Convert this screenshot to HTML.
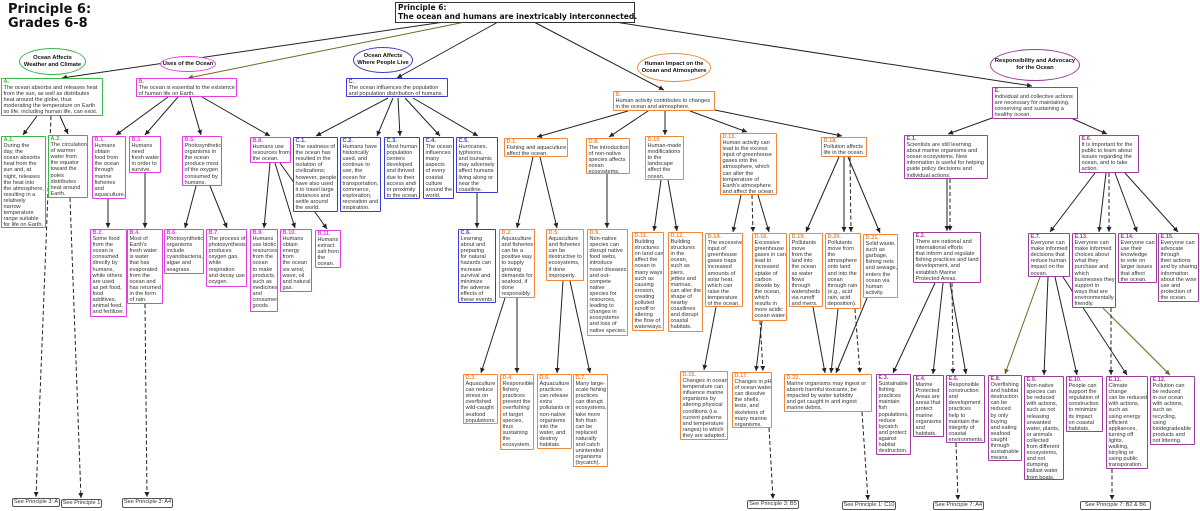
<!DOCTYPE html>
<html><head><meta charset="utf-8"><style>
body{margin:0;background:#fff;}
#w{position:relative;width:1200px;height:511px;overflow:hidden;background:#fff;font-family:"Liberation Sans",sans-serif;}
svg{position:absolute;left:0;top:0;}
.b{position:absolute;border:1.5px solid;background:#fff;font:5.6px/6.1px "Liberation Sans",sans-serif;color:#333;padding:0 1.5px;box-sizing:border-box;white-space:nowrap;overflow:hidden;border-radius:1px;}
.b i{font-style:normal;font-weight:bold;}
.g{border-color:#3cb54a}.g i{color:#3cb54a}
.m{border-color:#e040e0}.m i{color:#e040e0}
.c{border-color:#3c3cc8}.c i{color:#3c3cc8}
.o{border-color:#f0883c}.o i{color:#f0883c}
.p{border-color:#9c3c9c}.p i{color:#9c3c9c}
.e{position:absolute;border:1.5px solid;border-radius:50%;background:#fff;box-sizing:border-box;display:flex;align-items:center;justify-content:center;text-align:center;font:bold 5.8px/7px "Liberation Sans",sans-serif;color:#111;}
.s{position:absolute;border:1.3px solid #555;border-radius:2px;background:#fff;font:5.6px/6px "Liberation Sans",sans-serif;color:#333;box-sizing:border-box;text-align:center;white-space:nowrap;overflow:hidden;}
#t{position:absolute;left:8px;top:3px;font:bold 13px/14px "DejaVu Sans",sans-serif;color:#111;}
#top{position:absolute;left:395px;top:2px;width:240px;height:21px;border:1.5px solid #333;box-sizing:border-box;font:bold 7.6px/8.8px "DejaVu Sans",sans-serif;color:#111;padding:1px 2px;white-space:nowrap;background:#fff;}
</style></head><body><div id="w">
<svg width="1200" height="511" viewBox="0 0 1200 511">
<defs><marker id="a" markerWidth="6" markerHeight="6" refX="5" refY="3" orient="auto" markerUnits="userSpaceOnUse"><path d="M0,0.5 L5,3 L0,5.5z" fill="#222"/></marker>
<marker id="ao" markerWidth="6" markerHeight="6" refX="5" refY="3" orient="auto" markerUnits="userSpaceOnUse"><path d="M0,0.5 L5,3 L0,5.5z" fill="#6b6b20"/></marker></defs>
<g stroke="#222" stroke-width="1" fill="none" marker-end="url(#a)">
<line x1="444" y1="22" x2="62" y2="78"/>
<line x1="498" y1="22" x2="397" y2="78"/>
<line x1="534" y1="22" x2="664" y2="90"/>
<line x1="615" y1="22" x2="1032" y2="86"/>
<line x1="37" y1="116" x2="23" y2="135"/>
<line x1="60" y1="116" x2="68" y2="134"/>
<line x1="168" y1="97" x2="116" y2="135"/>
<line x1="178" y1="97" x2="145" y2="135"/>
<line x1="190" y1="97" x2="201" y2="135"/>
<line x1="202" y1="97" x2="270" y2="136"/>
<line x1="108" y1="199" x2="108" y2="228"/>
<line x1="145" y1="173" x2="145" y2="228"/>
<line x1="196" y1="186" x2="185" y2="228"/>
<line x1="210" y1="186" x2="227" y2="228"/>
<line x1="270" y1="163" x2="264" y2="228"/>
<line x1="275" y1="163" x2="295" y2="228"/>
<line x1="280" y1="163" x2="327" y2="229"/>
<line x1="388" y1="98" x2="316" y2="136"/>
<line x1="393" y1="98" x2="377" y2="136"/>
<line x1="398" y1="98" x2="400" y2="136"/>
<line x1="405" y1="98" x2="440" y2="136"/>
<line x1="413" y1="98" x2="478" y2="136"/>
<line x1="477" y1="193" x2="477" y2="228"/>
<line x1="628" y1="111" x2="537" y2="137"/>
<line x1="648" y1="111" x2="609" y2="137"/>
<line x1="665" y1="111" x2="665" y2="135"/>
<line x1="690" y1="111" x2="747" y2="132"/>
<line x1="715" y1="110" x2="842" y2="136"/>
<line x1="533" y1="157" x2="517" y2="228"/>
<line x1="540" y1="157" x2="557" y2="228"/>
<line x1="505" y1="298" x2="481" y2="373"/>
<line x1="517" y1="298" x2="517" y2="373"/>
<line x1="563" y1="281" x2="557" y2="373"/>
<line x1="570" y1="281" x2="590" y2="373"/>
<line x1="607" y1="174" x2="607" y2="228"/>
<line x1="661" y1="180" x2="654" y2="231"/>
<line x1="668" y1="180" x2="677" y2="231"/>
<line x1="741" y1="195" x2="733" y2="232"/>
<line x1="758" y1="195" x2="769" y2="232"/>
<line x1="762" y1="321" x2="756" y2="371"/>
<line x1="716" y1="307" x2="704" y2="370"/>
<line x1="839" y1="157" x2="806" y2="232"/>
<line x1="844" y1="157" x2="844" y2="232"/>
<line x1="848" y1="157" x2="880" y2="233"/>
<line x1="813" y1="307" x2="825" y2="373"/>
<line x1="838" y1="309" x2="831" y2="373"/>
<line x1="867" y1="298" x2="836" y2="373"/>
<line x1="992" y1="118" x2="948" y2="134"/>
<line x1="1071" y1="118" x2="1107" y2="134"/>
<line x1="947" y1="179" x2="947" y2="231"/>
<line x1="935" y1="283" x2="893" y2="373"/>
<line x1="943" y1="283" x2="933" y2="374"/>
<line x1="950" y1="283" x2="966" y2="374"/>
<line x1="1095" y1="173" x2="1050" y2="232"/>
<line x1="1106" y1="173" x2="1099" y2="232"/>
<line x1="1115" y1="173" x2="1137" y2="232"/>
<line x1="1125" y1="173" x2="1178" y2="232"/>
<line x1="1048" y1="277" x2="1044" y2="375"/>
<line x1="1055" y1="277" x2="1077" y2="375"/>
<line x1="1063" y1="277" x2="1127" y2="375"/>
</g>
<g stroke="#6b6b20" stroke-width="1" fill="none" marker-end="url(#ao)">
<line x1="465" y1="22" x2="188" y2="78"/>
<line x1="1040" y1="277" x2="1005" y2="374"/>
<line x1="1103" y1="308" x2="1170" y2="375"/>
</g>
<g stroke="#222" stroke-width="1" fill="none" stroke-dasharray="4,2.5" marker-end="url(#a)">
<line x1="51" y1="116" x2="36" y2="497"/>
<line x1="70" y1="198" x2="81" y2="498"/>
<line x1="145" y1="304" x2="147" y2="497"/>
<line x1="752" y1="195" x2="753" y2="232"/>
<line x1="760" y1="321" x2="763" y2="371"/>
<line x1="769" y1="428" x2="773" y2="499"/>
<line x1="850" y1="157" x2="851" y2="232"/>
<line x1="855" y1="309" x2="860" y2="373"/>
<line x1="862" y1="412" x2="868" y2="500"/>
<line x1="950" y1="179" x2="950" y2="231"/>
<line x1="952" y1="283" x2="953" y2="374"/>
<line x1="956" y1="443" x2="958" y2="500"/>
<line x1="1109" y1="173" x2="1109" y2="232"/>
<line x1="1111" y1="308" x2="1111" y2="375"/>
<line x1="1112" y1="469" x2="1112" y2="500"/>
</g>
</svg>

<div id="t">Principle 6:<br>Grades 6-8</div>
<div id="top">Principle 6:<br>The ocean and humans are inextricably interconnected.</div>

<div class="e" style="left:19px;top:48px;width:67px;height:27px;border-color:#3cb54a">Ocean Affects<br>Weather and Climate</div>
<div class="e" style="left:160px;top:56px;width:56px;height:16px;border-color:#e040e0">Uses of the Ocean</div>
<div class="e" style="left:353px;top:47px;width:60px;height:26px;border-color:#3c3cc8">Ocean Affects<br>Where People Live</div>
<div class="e" style="left:637px;top:53px;width:74px;height:29px;border-color:#f0883c">Human Impact on the<br>Ocean and Atmosphere</div>
<div class="e" style="left:990px;top:49px;width:90px;height:32px;border-color:#9c3c9c">Responsibility and Advocacy<br>for the Ocean</div>

<div class="b g" style="left:1px;top:78px;width:102px;height:38px"><i>A.</i><br>The ocean absorbs and releases heat<br>from the sun, as well as distributes<br>heat around the globe, thus<br>moderating the temperature on Earth<br>so life, including human life, can exist.</div>
<div class="b g" style="left:1px;top:136px;width:45px;height:92px"><i>A.1.</i><br>During the<br>day, the<br>ocean absorbs<br>heat from the<br>sun and, at<br>night, releases<br>the heat into<br>the atmosphere,<br>resulting in a<br>relatively<br>narrow<br>temperature<br>range suitable<br>for life on Earth.</div>
<div class="b g" style="left:48px;top:135px;width:40px;height:63px"><i>A.2.</i><br>The circulation<br>of warmer<br>water from<br>the equator<br>toward the<br>poles<br>distributes<br>heat around<br>Earth.</div>

<div class="b m" style="left:136px;top:78px;width:101px;height:19px"><i>B.</i><br>The ocean is essential to the existence<br>of human life on Earth.</div>
<div class="b m" style="left:92px;top:136px;width:34px;height:63px"><i>B.1.</i><br>Humans<br>obtain<br>food from<br>the ocean<br>through<br>marine<br>fisheries<br>and<br>aquaculture.</div>
<div class="b m" style="left:90px;top:229px;width:37px;height:88px"><i>B.2.</i><br>Some food<br>from the<br>ocean is<br>consumed<br>directly by<br>humans,<br>while others<br>are used<br>as pet food,<br>food<br>additives,<br>animal feed,<br>and fertilizer.</div>
<div class="b m" style="left:129px;top:136px;width:32px;height:37px"><i>B.3.</i><br>Humans<br>need<br>fresh water<br>in order to<br>survive.</div>
<div class="b m" style="left:127px;top:229px;width:36px;height:75px"><i>B.4.</i><br>Most of<br>Earth's<br>fresh water<br>is water<br>that has<br>evaporated<br>from the<br>ocean and<br>has returned<br>in the form<br>of rain.</div>
<div class="b m" style="left:182px;top:136px;width:40px;height:50px"><i>B.5.</i><br>Photosynthetic<br>organisms in<br>the ocean<br>produce most<br>of the oxygen<br>consumed by<br>humans.</div>
<div class="b m" style="left:164px;top:229px;width:40px;height:45px"><i>B.6.</i><br>Photosynthetic<br>organisms<br>include<br>cyanobacteria,<br>algae and<br>seagrass.</div>
<div class="b m" style="left:206px;top:229px;width:41px;height:58px"><i>B.7.</i><br>The process of<br>photosynthesis<br>produces<br>oxygen gas,<br>while<br>respiration<br>and decay use<br>oxygen.</div>
<div class="b m" style="left:250px;top:137px;width:41px;height:26px"><i>B.8.</i><br>Humans use<br>resources from<br>the ocean.</div>
<div class="b m" style="left:250px;top:229px;width:28px;height:83px"><i>B.9.</i><br>Humans<br>use biotic<br>resources<br>from the<br>ocean<br>to make<br>products,<br>such as<br>medicines<br>and<br>consumer<br>goods.</div>
<div class="b m" style="left:280px;top:229px;width:32px;height:63px"><i>B.10.</i><br>Humans<br>obtain<br>energy<br>from<br>the ocean<br>via wind,<br>wave, oil<br>and natural<br>gas.</div>
<div class="b m" style="left:315px;top:230px;width:26px;height:38px"><i>B.11.</i><br>Humans<br>extract<br>salt from<br>the<br>ocean.</div>

<div class="b c" style="left:346px;top:78px;width:102px;height:19px"><i>C.</i><br>The ocean influences the population<br>and population distribution of humans.</div>
<div class="b c" style="left:293px;top:137px;width:45px;height:75px"><i>C.1.</i><br>The vastness of<br>the ocean has<br>resulted in the<br>isolation of<br>civilizations;<br>however, people<br>have also used<br>it to travel large<br>distances and<br>settle around<br>the world.</div>
<div class="b c" style="left:340px;top:137px;width:41px;height:75px"><i>C.2.</i><br>Humans have<br>historically<br>used, and<br>continue to<br>use, the<br>ocean for<br>transportation,<br>commerce,<br>exploration,<br>recreation and<br>inspiration.</div>
<div class="b c" style="left:384px;top:137px;width:36px;height:62px"><i>C.3.</i><br>Most human<br>population<br>centers<br>developed<br>and thrived<br>due to their<br>access and/<br>or proximity<br>to the ocean.</div>
<div class="b c" style="left:423px;top:137px;width:31px;height:62px"><i>C.4.</i><br>The ocean<br>influences<br>many<br>aspects<br>of every<br>coastal<br>culture<br>around the<br>world.</div>
<div class="b c" style="left:456px;top:137px;width:42px;height:56px"><i>C.5.</i><br>Hurricanes,<br>typhoons,<br>and tsunamis<br>may adversely<br>affect humans<br>living along or<br>near the<br>coastline.</div>
<div class="b c" style="left:458px;top:229px;width:38px;height:74px"><i>C.6.</i><br>Learning<br>about and<br>preparing<br>for natural<br>hazards can<br>increase<br>survival and<br>minimize<br>the adverse<br>effects of<br>these events.</div>

<div class="b o" style="left:613px;top:91px;width:102px;height:20px"><i>D.</i><br>Human activity contributes to changes<br>in the ocean and atmosphere.</div>
<div class="b o" style="left:504px;top:138px;width:64px;height:19px"><i>D.1.</i><br>Fishing and aquaculture<br>affect the ocean.</div>
<div class="b o" style="left:499px;top:229px;width:36px;height:69px"><i>D.2.</i><br>Aquaculture<br>and fisheries<br>can be a<br>positive way<br>to supply<br>growing<br>demands for<br>seafood, if<br>done<br>responsibly.</div>
<div class="b o" style="left:463px;top:374px;width:35px;height:50px"><i>D.3.</i><br>Aquaculture<br>can reduce<br>stress on<br>overfished<br>wild-caught<br>seafood<br>populations.</div>
<div class="b o" style="left:500px;top:374px;width:34px;height:76px"><i>D.4.</i><br>Responsible<br>fishery<br>practices<br>prevent the<br>overfishing<br>of target<br>species,<br>thus<br>sustaining<br>the<br>ecosystem.</div>
<div class="b o" style="left:546px;top:229px;width:38px;height:52px"><i>D.5.</i><br>Aquaculture<br>and fisheries<br>can be<br>destructive to<br>ecosystems,<br>if done<br>improperly.</div>
<div class="b o" style="left:537px;top:374px;width:35px;height:75px"><i>D.6.</i><br>Aquaculture<br>practices<br>can release<br>extra<br>pollutants or<br>non-native<br>organisms<br>into the<br>water, and<br>destroy<br>habitats.</div>
<div class="b o" style="left:573px;top:374px;width:35px;height:93px"><i>D.7.</i><br>Many large-<br>scale fishing<br>practices<br>can disrupt<br>ecosystems,<br>take more<br>fish than<br>can be<br>replaced<br>naturally<br>and catch<br>unintended<br>organisms<br>(bycatch).</div>
<div class="b o" style="left:586px;top:138px;width:44px;height:36px"><i>D.8.</i><br>The introduction<br>of non-native<br>species affects<br>ocean<br>ecosystems.</div>
<div class="b o" style="left:587px;top:229px;width:41px;height:107px"><i>D.9.</i><br>Non-native<br>species can<br>disrupt native<br>food webs,<br>introduce<br>novel diseases<br>and out-<br>compete<br>native<br>species for<br>resources,<br>leading to<br>changes in<br>ecosystems<br>and loss of<br>native species.</div>
<div class="b o" style="left:645px;top:136px;width:39px;height:44px"><i>D.10.</i><br>Human-made<br>modifications<br>to the<br>landscape<br>affect the<br>ocean.</div>
<div class="b o" style="left:632px;top:232px;width:32px;height:99px"><i>D.11.</i><br>Building<br>structures<br>on land can<br>affect the<br>ocean in<br>many ways,<br>such as<br>causing<br>erosion,<br>creating<br>polluted<br>runoff or<br>altering<br>the flow of<br>waterways.</div>
<div class="b o" style="left:668px;top:232px;width:35px;height:100px"><i>D.12.</i><br>Building<br>structures<br>in the<br>ocean,<br>such as<br>piers,<br>jetties and<br>marinas,<br>can alter the<br>shape of<br>nearby<br>coastlines<br>and disrupt<br>coastal<br>habitats.</div>
<div class="b o" style="left:720px;top:133px;width:57px;height:62px"><i>D.13.</i><br>Human activity can<br>lead to the excess<br>input of greenhouse<br>gases into the<br>atmosphere, which<br>can alter the<br>temperature of<br>Earth's atmosphere<br>and affect the ocean.</div>
<div class="b o" style="left:705px;top:233px;width:38px;height:74px"><i>D.14.</i><br>The excessive<br>input of<br>greenhouse<br>gases traps<br>increased<br>amounts of<br>solar heat,<br>which can<br>raise the<br>temperature<br>of the ocean.</div>
<div class="b o" style="left:680px;top:371px;width:48px;height:69px"><i>D.15.</i><br>Changes in ocean<br>temperature can<br>influence marine<br>organisms by<br>altering physical<br>conditions (i.e.<br>current patterns<br>and temperature<br>ranges) to which<br>they are adapted.</div>
<div class="b o" style="left:752px;top:233px;width:35px;height:88px"><i>D.16.</i><br>Excessive<br>greenhouse<br>gases in can<br>lead to<br>increased<br>uptake of<br>carbon<br>dioxide by<br>the ocean,<br>which<br>results in<br>more acidic<br>ocean water.</div>
<div class="b o" style="left:732px;top:372px;width:40px;height:56px"><i>D.17.</i><br>Changes in pH<br>of ocean water<br>can dissolve<br>the shells,<br>tests, and<br>skeletons of<br>many marine<br>organisms.</div>
<div class="b o" style="left:821px;top:137px;width:46px;height:20px"><i>D.18.</i><br>Pollution affects<br>life in the ocean.</div>
<div class="b o" style="left:789px;top:233px;width:34px;height:74px"><i>D.19.</i><br>Pollutants<br>move<br>from the<br>land into<br>the ocean<br>as water<br>flows<br>through<br>watersheds<br>via runoff<br>and rivers.</div>
<div class="b o" style="left:825px;top:233px;width:36px;height:76px"><i>D.20.</i><br>Pollutants<br>move from<br>the<br>atmosphere<br>onto land<br>and into the<br>ocean<br>through rain<br>(e.g., acid<br>rain, acid<br>deposition).</div>
<div class="b o" style="left:863px;top:234px;width:35px;height:64px"><i>D.21.</i><br>Solid waste,<br>such as<br>garbage,<br>fishing nets<br>and sewage,<br>enters the<br>ocean via<br>human<br>activity.</div>
<div class="b o" style="left:784px;top:374px;width:88px;height:38px"><i>D.22.</i><br>Marine organisms may ingest or<br>absorb harmful toxicants, be<br>impacted by water turbidity<br>and get caught in and ingest<br>marine debris.</div>

<div class="b p" style="left:992px;top:87px;width:86px;height:32px"><i>E.</i><br>Individual and collective actions<br>are necessary for maintaining,<br>conserving and sustaining a<br>healthy ocean.</div>
<div class="b p" style="left:904px;top:135px;width:84px;height:44px"><i>E.1.</i><br>Scientists are still learning<br>about marine organisms and<br>ocean ecosystems. New<br>information is useful for helping<br>guide policy decisions and<br>individual actions.</div>
<div class="b p" style="left:913px;top:232px;width:68px;height:51px"><i>E.2.</i><br>There are national and<br>international efforts<br>that inform and regulate<br>fishing practices and land<br>development, and<br>establish Marine<br>Protected Areas.</div>
<div class="b p" style="left:876px;top:374px;width:35px;height:81px"><i>E.3.</i><br>Sustainable<br>fishing<br>practices<br>maintain<br>fish<br>populations,<br>reduce<br>bycatch<br>and protect<br>against<br>habitat<br>destruction.</div>
<div class="b p" style="left:913px;top:375px;width:31px;height:62px"><i>E.4.</i><br>Marine<br>Protected<br>Areas are<br>areas that<br>protect<br>marine<br>organisms<br>and<br>habitats.</div>
<div class="b p" style="left:946px;top:375px;width:39px;height:68px"><i>E.5.</i><br>Responsible<br>construction<br>and<br>development<br>practices<br>help to<br>maintain the<br>integrity of<br>coastal<br>environments.</div>
<div class="b p" style="left:1079px;top:135px;width:60px;height:38px"><i>E.6.</i><br>It is important for the<br>public to learn about<br>issues regarding the<br>ocean, and to take<br>action.</div>
<div class="b p" style="left:1028px;top:233px;width:42px;height:44px"><i>E.7.</i><br>Everyone can<br>make informed<br>decisions that<br>reduce human<br>impact on the<br>ocean.</div>
<div class="b p" style="left:988px;top:375px;width:34px;height:86px"><i>E.8.</i><br>Overfishing<br>and habitat<br>destruction<br>can be<br>reduced<br>by only<br>buying<br>and eating<br>seafood<br>caught<br>through<br>sustainable<br>means.</div>
<div class="b p" style="left:1024px;top:376px;width:40px;height:104px"><i>E.9.</i><br>Non-native<br>species can<br>be reduced<br>with actions,<br>such as not<br>releasing<br>unwanted<br>water, plants,<br>or animals<br>collected<br>from different<br>ecosystems,<br>and not<br>dumping<br>ballast water<br>from boats.</div>
<div class="b p" style="left:1066px;top:376px;width:37px;height:56px"><i>E.10.</i><br>People can<br>support the<br>regulation of<br>construction<br>to minimize<br>its impact<br>on coastal<br>habitats.</div>
<div class="b p" style="left:1106px;top:376px;width:42px;height:93px"><i>E.11.</i><br>Climate<br>change<br>can be reduced<br>with actions,<br>such as<br>using energy<br>efficient<br>appliances,<br>turning off<br>lights,<br>walking,<br>bicyling or<br>using public<br>transporation.</div>
<div class="b p" style="left:1150px;top:376px;width:45px;height:69px"><i>E.12.</i><br>Pollution can<br>be reduced<br>in our ocean<br>with actions,<br>such as<br>recycling,<br>using<br>biodegradeable<br>products and<br>not littering.</div>
<div class="b p" style="left:1072px;top:233px;width:44px;height:75px"><i>E.13.</i><br>Everyone can<br>make informed<br>choices about<br>what they<br>purchase and<br>which<br>businesses they<br>support in<br>ways that are<br>environmentally<br>friendly.</div>
<div class="b p" style="left:1118px;top:233px;width:39px;height:50px"><i>E.14.</i><br>Everyone can<br>use their<br>knowledge<br>to vote on<br>larger issues<br>that affect<br>the ocean.</div>
<div class="b p" style="left:1158px;top:233px;width:41px;height:69px"><i>E.15.</i><br>Everyone can<br>advocate<br>through<br>their actions<br>and by sharing<br>information<br>about the wise<br>use and<br>protection of<br>the ocean.</div>

<div class="s" style="left:12px;top:498px;width:48px;height:9px">See Principle 3: A</div>
<div class="s" style="left:61px;top:499px;width:41px;height:9px">See Principle 1</div>
<div class="s" style="left:122px;top:498px;width:51px;height:10px">See Principle 3: A4</div>
<div class="s" style="left:747px;top:500px;width:52px;height:9px">See Principle 3: B5</div>
<div class="s" style="left:842px;top:501px;width:54px;height:9px">See Principle 1: C10</div>
<div class="s" style="left:933px;top:501px;width:51px;height:9px">See Principle 7: A4</div>
<div class="s" style="left:1080px;top:501px;width:71px;height:9px">See Principle 7: B2 &amp; B6</div>
</div></body></html>
